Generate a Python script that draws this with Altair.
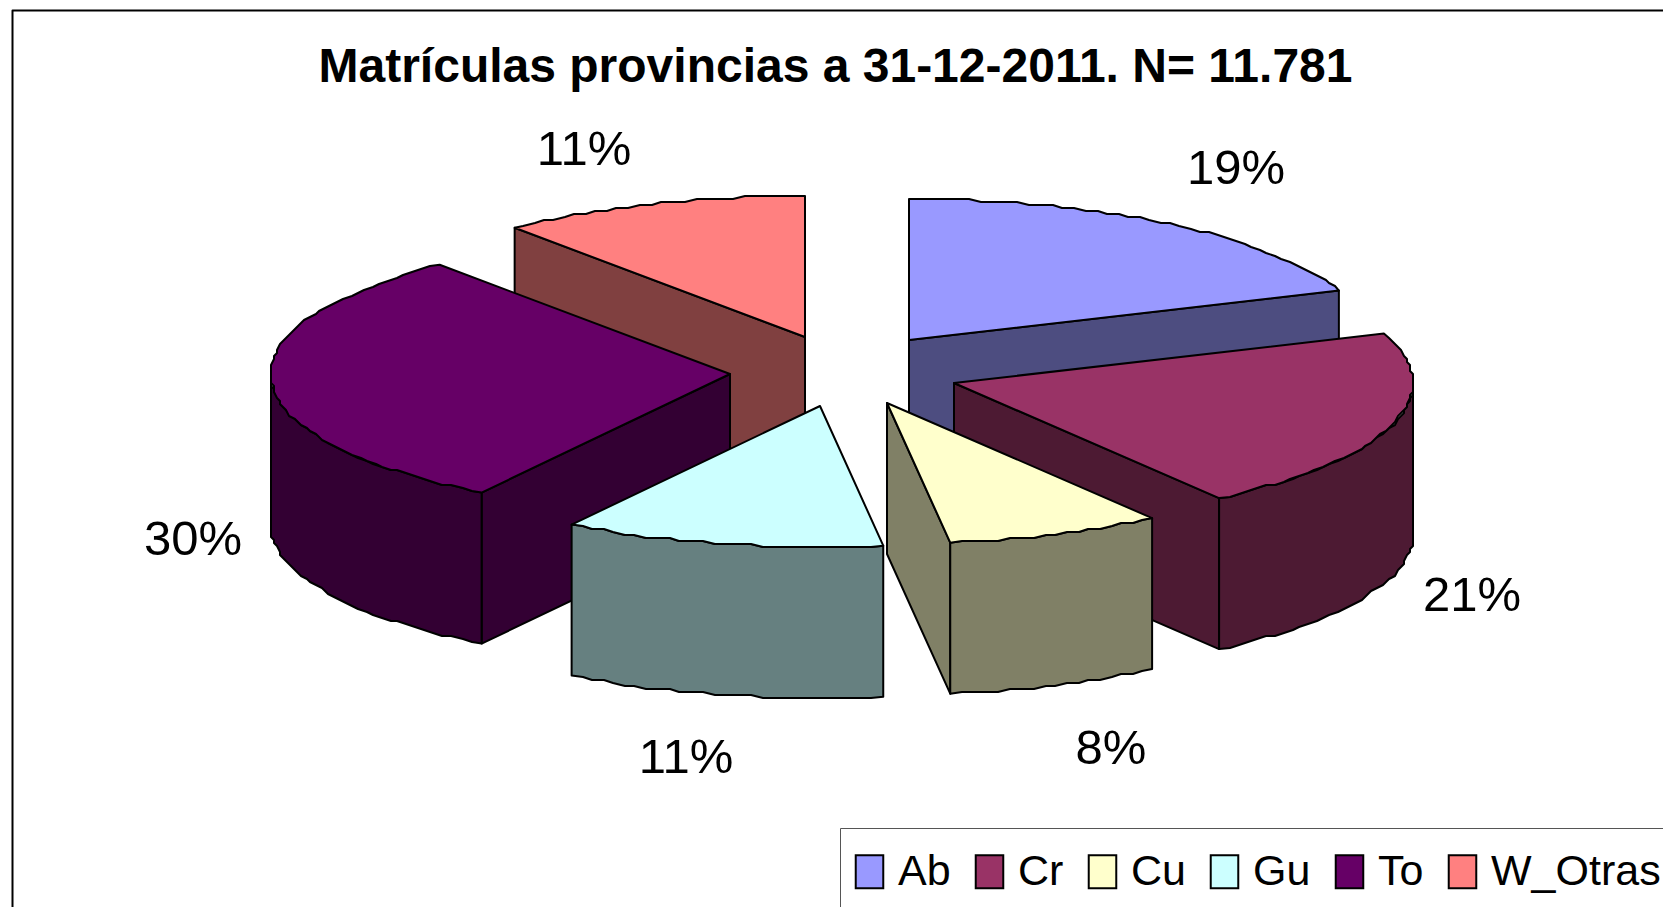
import math
import altair as alt
import pandas as pd

# ---- values ----
slices = ["Ab", "Cr", "Cu", "Gu", "To", "W_Otras"]
shares = [19.3, 20.9, 7.6, 11.3, 30.0, 10.9]
top_colors = ["#9999FF", "#993366", "#FFFFCC", "#CCFFFF", "#660066", "#FF8080"]
wall_colors = ["#4D4D80", "#4D1A33", "#808066", "#668080", "#330033", "#804040"]
title_text = "Matrículas provincias a 31-12-2011. N= 11.781"

# ---- layout (pixels of the reference picture) ----
FONT = "Liberation Sans"
RX, RY, DEPTH = 459, 141, 151
GRID = 3.0
apex = {"Ab": (909, 340), "Cr": (954, 383), "Cu": (887, 403),
        "Gu": (820, 406), "To": (730, 374), "W_Otras": (805, 337)}
label_pos = {"Ab": (1236, 169), "Cr": (1472, 596), "Cu": (1111, 749),
             "Gu": (686, 758), "To": (193, 540), "W_Otras": (584, 150)}
draw_order = ["Ab", "W_Otras", "To", "Cr", "Gu", "Cu"]


def rim(name, t0, t1):
    """Rim of the tilted disc, snapped to a coarse grid like the stepped outline."""
    ax, ay = apex[name]
    n = max(1, int(abs(t1 - t0) / 1.5))
    pts = []
    for i in range(n + 1):
        t = math.radians(t0 + (t1 - t0) * i / n)
        x, y = RX * math.sin(t), -RY * math.cos(t)
        if 0 < i < n:
            x, y = round(x / GRID) * GRID, round(y / GRID) * GRID
        pts.append((ax + x, ay + y))
    return pts


def point(name, t):
    ax, ay = apex[name]
    r = math.radians(t)
    return (ax + RX * math.sin(r), ay - RY * math.cos(r))


def down(pts):
    return [(x, y + DEPTH) for x, y in pts]


def face(key, pts):
    ring = [list(p) for p in pts] + [list(pts[0])]
    return {"type": "Feature", "properties": {"face": key},
            "geometry": {"type": "Polygon", "coordinates": [ring]}}


spans = {}
cum = 0.0
for name, share in zip(slices, shares):
    spans[name] = (cum * 3.6, (cum + share) * 3.6)
    cum += share

features = []
for name in draw_order:
    t0, t1 = spans[name]
    a = apex[name]
    wall = name + " wall"
    # only the cut faces that look towards the viewer
    if math.sin(math.radians(t0)) < -1e-6:
        edge = [a, point(name, t0)]
        features.append(face(wall, edge + down(edge)[::-1]))
    if math.sin(math.radians(t1)) > 1e-6:
        edge = [a, point(name, t1)]
        features.append(face(wall, edge + down(edge)[::-1]))
    lo, hi = max(t0, 90), min(t1, 270)
    if hi > lo:
        arc = rim(name, lo, hi)
        features.append(face(wall, arc + down(arc)[::-1]))
    features.append(face(name, [a] + rim(name, t0, t1)))

frame = [face("frame", [(12.5, 10.5), (1800, 10.5), (1800, 1000), (12.5, 1000)])]

labels = pd.DataFrame({
    "lon": [label_pos[s][0] for s in slices],
    "lat": [label_pos[s][1] for s in slices],
    "label": [f"{round(v)}%" for v in shares],
})

domain = slices + [s + " wall" for s in slices] + ["frame"]
rng = top_colors + wall_colors + ["#FFFFFF"]

shapes = alt.Chart(alt.Data(values=frame + features)).mark_geoshape(
    stroke="black", strokeWidth=2, strokeJoin="round"
).encode(
    color=alt.Color(
        "properties.face:N",
        scale=alt.Scale(domain=domain, range=rng),
        legend=alt.Legend(
            values=slices, title=None, orient="none", legendX=832, legendY=820,
            direction="horizontal", columns=6, columnPadding=20, padding=22,
            fillColor="white", strokeColor="#555555",
            symbolType="M-0.83,-1H0.83V1H-0.83Z", symbolSize=1100,
            symbolStrokeColor="black", symbolStrokeWidth=2, symbolOpacity=1,
            symbolOffset=-14,
            labelFont=FONT, labelFontSize=43, labelColor="black", labelLimit=300,
            labelOffset=7, rowPadding=0,
        ),
    )
)

text = alt.Chart(labels).mark_text(font=FONT, fontSize=49, color="black").encode(
    longitude="lon:Q", latitude="lat:Q", text="label:N"
)

chart = alt.layer(shapes, text).project(
    type="identity", scale=1, translate=[-8, -8]
).properties(
    width=1655, height=899, padding=0,
    autosize=alt.AutoSizeParams(type="none"),
    title=alt.TitleParams(
        title_text, font=FONT, fontSize=48, fontWeight="bold", color="black",
        anchor="middle", dy=84, offset=0,
    ),
).configure_view(stroke=None)

chart.save("out.html", embed_options={"renderer": "svg", "actions": False})
